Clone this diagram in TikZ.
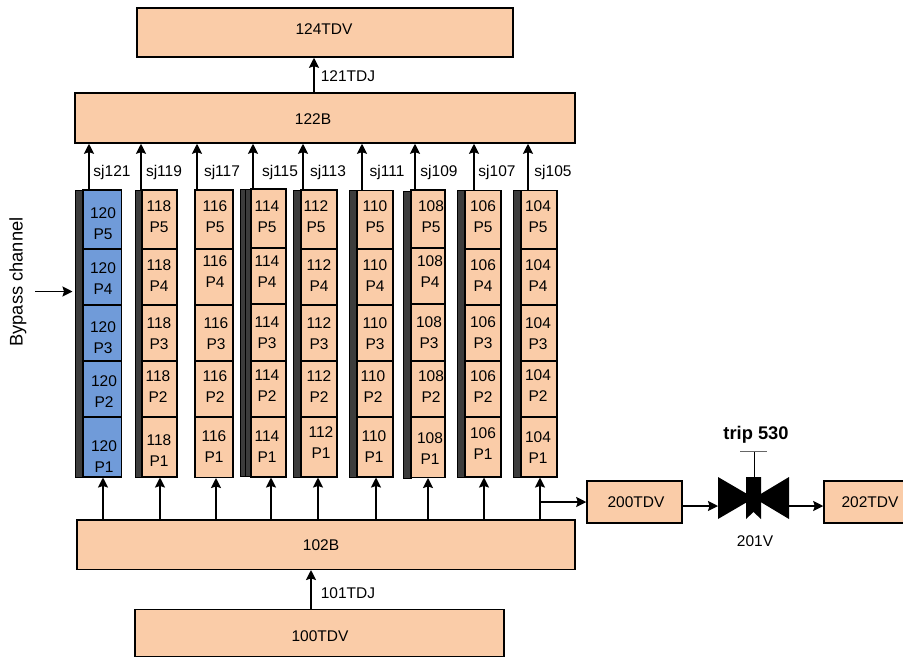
\documentclass[tikz,border=0pt]{standalone}
\usepackage{fontspec}
\setmainfont{Liberation Sans}
\usetikzlibrary{arrows.meta,calc,positioning}
\definecolor{peach}{RGB}{250,204,168}
\definecolor{pumpblue}{RGB}{112,155,217}
\definecolor{darkbar}{RGB}{60,60,60}
\tikzset{
  bigbox/.style={draw=black,line width=1.5pt,fill=peach,minimum width=#1,inner sep=0pt},
  cell/.style={draw=black,line width=1.5pt,fill=peach,minimum width=#1,minimum height=56,inner sep=0pt},
  toprow/.style={minimum height=59},
  lastrow/.style={minimum height=60},
  bluecell/.style={fill=pumpblue},
  bar/.style={draw=black,line width=1pt,fill=darkbar,minimum width=#1,minimum height=287,inner sep=0pt},
  celltext/.style={align=center,inner sep=0pt,font=\fontsize{15.5}{21}\selectfont},
  lbl/.style={inner sep=0pt,font=\fontsize{15.5}{18}\selectfont},
  biglbl/.style={inner sep=0pt,font=\fontsize{18.3}{22}\selectfont},
  flow/.style={line width=1.5pt,-{Stealth[length=10pt,width=10pt,inset=1.5pt]}}
}
\begin{document}
\begin{tikzpicture}[x=1pt,y=-1pt]
  \useasboundingbox (0,0) rectangle (903,657);
  % Main boxes
  \node[bigbox=376,minimum height=49] (b124) at (325,32.5) {};
  \node[lbl] (l124) at (324,29) {124TDV};
  \node[bigbox=500,minimum height=50] (b122) at (325,118) {};
  \node[lbl] (l122) at (313,119) {122B};
  \node[bigbox=498,minimum height=49.5] (b102) at (326,544.5) {};
  \node[lbl] (l102) at (321,545) {102B};
  \node[bigbox=369,minimum height=47] (b100) at (319.5,633) {};
  \node[lbl] (l100) at (320,636) {100TDV};
  \node[bigbox=95,minimum height=42] (b200) at (634.5,502) {};
  \node[lbl] (l200) at (636,502) {200TDV};
  \node[bigbox=84,minimum height=42] (b202) at (866,502) {};
  \node[lbl] (l202) at (870,502) {202TDV};
  % Column 120
  \node[bar=8] (d120) at (79,333.5) {};
  \node[cell=38.5,toprow,bluecell] (c120p5) at (102,219.5) {};
  \node[cell=38.5,bluecell] (c120p4) at (102,277) {};
  \node[cell=38.5,bluecell] (c120p3) at (102,333) {};
  \node[cell=38.5,bluecell] (c120p2) at (102,389) {};
  \node[cell=38.5,lastrow,bluecell] (c120p1) at (102,447) {};
  \node[celltext] (t120p5) at (103,224) {120\\P5};
  \node[celltext] (t120p4) at (103,279) {120\\P4};
  \node[celltext] (t120p3) at (103,338) {120\\P3};
  \node[celltext] (t120p2) at (104,392) {120\\P2};
  \node[celltext] (t120p1) at (104,457) {120\\P1};
  % Column 118
  \node[bar=7] (d118) at (138.5,333.5) {};
  \node[cell=35,toprow] (c118p5) at (159.5,219.5) {};
  \node[cell=35] (c118p4) at (159.5,277) {};
  \node[cell=35] (c118p3) at (159.5,333) {};
  \node[cell=35] (c118p2) at (159.5,389) {};
  \node[cell=35,lastrow] (c118p1) at (159.5,447) {};
  \node[celltext] (t118p5) at (159,217) {118\\P5};
  \node[celltext] (t118p4) at (159,276) {118\\P4};
  \node[celltext] (t118p3) at (159,334) {118\\P3};
  \node[celltext] (t118p2) at (158,387) {118\\P2};
  \node[celltext] (t118p1) at (159,451) {118\\P1};
  % Column 116
  \node[cell=38,toprow] (c116p5) at (214,219.5) {};
  \node[cell=38] (c116p4) at (214,277) {};
  \node[cell=38] (c116p3) at (214,333) {};
  \node[cell=38] (c116p2) at (214,389) {};
  \node[cell=38,lastrow] (c116p1) at (214,447.5) {};
  \node[celltext] (t116p5) at (215,217) {116\\P5};
  \node[celltext] (t116p4) at (215,272) {116\\P4};
  \node[celltext] (t116p3) at (216,334) {116\\P3};
  \node[celltext] (t116p2) at (215,387) {116\\P2};
  \node[celltext] (t116p1) at (214,447) {116\\P1};
  % Column 114
  \node[bar=6] (d114a) at (243,333) {};
  \node[bar=6] (d114b) at (248,333) {};
  \node[cell=35,toprow] (c114p5) at (268.5,218.5) {};
  \node[cell=35] (c114p4) at (268.5,276) {};
  \node[cell=35] (c114p3) at (268.5,332.5) {};
  \node[cell=35] (c114p2) at (268.5,389) {};
  \node[cell=35,lastrow] (c114p1) at (268.5,447) {};
  \node[celltext] (t114p5) at (267,217) {114\\P5};
  \node[celltext] (t114p4) at (267,272) {114\\P4};
  \node[celltext] (t114p3) at (267,333) {114\\P3};
  \node[celltext] (t114p2) at (267,386) {114\\P2};
  \node[celltext] (t114p1) at (267,447) {114\\P1};
  % Column 112
  \node[bar=8] (d112) at (297,333.5) {};
  \node[cell=36,toprow] (c112p5) at (319,219.5) {};
  \node[cell=36] (c112p4) at (319,277) {};
  \node[cell=36] (c112p3) at (319,333) {};
  \node[cell=36] (c112p2) at (319,389) {};
  \node[cell=36,lastrow] (c112p1) at (319,447) {};
  \node[celltext] (t112p5) at (316,217) {112\\P5};
  \node[celltext] (t112p4) at (319,276) {112\\P4};
  \node[celltext] (t112p3) at (319,334) {112\\P3};
  \node[celltext] (t112p2) at (319,387) {112\\P2};
  \node[celltext] (t112p1) at (321,443) {112\\P1};
  % Column 110
  \node[bar=8] (d110) at (353,334) {};
  \node[cell=36,toprow] (c110p5) at (375,220) {};
  \node[cell=36] (c110p4) at (375,277) {};
  \node[cell=36] (c110p3) at (375,333) {};
  \node[cell=36] (c110p2) at (375,389) {};
  \node[cell=36,lastrow] (c110p1) at (375,447) {};
  \node[celltext] (t110p5) at (375,217) {110\\P5};
  \node[celltext] (t110p4) at (375,276) {110\\P4};
  \node[celltext] (t110p3) at (375,334) {110\\P3};
  \node[celltext] (t110p2) at (373,387) {110\\P2};
  \node[celltext] (t110p1) at (374,447) {110\\P1};
  % Column 108
  \node[bar=8] (d108) at (407,334.5) {};
  \node[cell=34,toprow] (c108p5) at (428,219.5) {};
  \node[cell=34] (c108p4) at (428,276) {};
  \node[cell=34] (c108p3) at (428,332.5) {};
  \node[cell=34] (c108p2) at (428,389) {};
  \node[cell=34,lastrow] (c108p1) at (428,447.5) {};
  \node[celltext] (t108p5) at (431,217) {108\\P5};
  \node[celltext] (t108p4) at (430,272) {108\\P4};
  \node[celltext] (t108p3) at (429,333) {108\\P3};
  \node[celltext] (t108p2) at (431,387) {108\\P2};
  \node[celltext] (t108p1) at (430,449) {108\\P1};
  % Column 106
  \node[bar=8] (d106) at (461,334) {};
  \node[cell=36,toprow] (c106p5) at (483,220) {};
  \node[cell=36] (c106p4) at (483,277) {};
  \node[cell=36] (c106p3) at (483,333) {};
  \node[cell=36] (c106p2) at (483,389) {};
  \node[cell=36,lastrow] (c106p1) at (483,447) {};
  \node[celltext] (t106p5) at (483,217) {106\\P5};
  \node[celltext] (t106p4) at (483,276) {106\\P4};
  \node[celltext] (t106p3) at (483,333) {106\\P3};
  \node[celltext] (t106p2) at (483,387) {106\\P2};
  \node[celltext] (t106p1) at (483,444) {106\\P1};
  % Column 104
  \node[bar=8] (d104) at (517,334) {};
  \node[cell=36,toprow] (c104p5) at (539,220) {};
  \node[cell=36] (c104p4) at (539,277) {};
  \node[cell=36] (c104p3) at (539,333) {};
  \node[cell=36] (c104p2) at (539,389) {};
  \node[cell=36,lastrow] (c104p1) at (539,447) {};
  \node[celltext] (t104p5) at (538,217) {104\\P5};
  \node[celltext] (t104p4) at (538,276) {104\\P4};
  \node[celltext] (t104p3) at (538,334) {104\\P3};
  \node[celltext] (t104p2) at (538,386) {104\\P2};
  \node[celltext] (t104p1) at (538,448) {104\\P1};
  % Outlets
  \coordinate (o120) at (89,190);
  \coordinate (o118) at (141,190);
  \coordinate (o116) at (197,190);
  \coordinate (o114) at (253,190);
  \coordinate (o112) at (303,190);
  \coordinate (o110) at (362,190);
  \coordinate (o108) at (415,190);
  \coordinate (o106) at (474,190);
  \coordinate (o104) at (528,190);
  \draw[flow] (o120) -- (o120 |- b122.south);
  \draw[flow] (o118) -- (o118 |- b122.south);
  \draw[flow] (o116) -- (o116 |- b122.south);
  \draw[flow] (o114) -- (o114 |- b122.south);
  \draw[flow] (o112) -- (o112 |- b122.south);
  \draw[flow] (o110) -- (o110 |- b122.south);
  \draw[flow] (o108) -- (o108 |- b122.south);
  \draw[flow] (o106) -- (o106 |- b122.south);
  \draw[flow] (o104) -- (o104 |- b122.south);
  \node[lbl] (sj121) at (112,172) {sj121};
  \node[lbl] (sj119) at (164,172) {sj119};
  \node[lbl] (sj117) at (222,172) {sj117};
  \node[lbl] (sj115) at (280,172) {sj115};
  \node[lbl] (sj113) at (328,172) {sj113};
  \node[lbl] (sj111) at (387,172) {sj111};
  \node[lbl] (sj109) at (439,172) {sj109};
  \node[lbl] (sj107) at (497,172) {sj107};
  \node[lbl] (sj105) at (553,172) {sj105};
  % Inlets
  \coordinate (i120) at (103,477.5);
  \coordinate (i118) at (160,477.5);
  \coordinate (i116) at (216,478);
  \coordinate (i114) at (271,477.5);
  \coordinate (i112) at (318,477.5);
  \coordinate (i110) at (376,477.5);
  \coordinate (i108) at (428,478);
  \coordinate (i106) at (484,477.5);
  \coordinate (i104) at (540,477.5);
  \draw[flow] (i120 |- b102.north) -- (i120);
  \draw[flow] (i118 |- b102.north) -- (i118);
  \draw[flow] (i116 |- b102.north) -- (i116);
  \draw[flow] (i114 |- b102.north) -- (i114);
  \draw[flow] (i112 |- b102.north) -- (i112);
  \draw[flow] (i110 |- b102.north) -- (i110);
  \draw[flow] (i108 |- b102.north) -- (i108);
  \draw[flow] (i106 |- b102.north) -- (i106);
  \draw[flow] (i104 |- b102.north) -- (i104);
  % Header links
  \coordinate (j121) at (314,93);
  \draw[flow] (j121) -- (j121 |- b124.south);
  \node[lbl] (l121) at (348,76) {121TDJ};
  \coordinate (j101) at (311,609);
  \draw[flow] (j101) -- (j101 |- b102.south);
  \node[lbl] (l101) at (348,593) {101TDJ};
  % Bypass
  \coordinate (byp) at (35,291.5);
  \coordinate (bypend) at (72.5,291.5);
  \draw[flow] (byp) -- (bypend);
  \node[biglbl,rotate=90] (lbyp) at (18,282) {Bypass channel};
  % Valve
  \coordinate (tee) at (540,502);
  \coordinate (vin) at (718,506);
  \coordinate (vout) at (789,506);
  \draw[flow] (tee) -- (tee -| b200.west);
  \draw[flow] (vin -| b200.east) -- (vin);
  \draw[flow] (vout) -- (vout -| b202.west);
  \fill (718,477) -- (754,498) -- (789,477) -- (789,519) -- (754,498) -- (718,519) -- cycle;
  \fill (746,477) -- (761,477) -- (761,519) -- (753.5,512) -- (746,519) -- cycle;
  \draw[line width=1pt] (754,477) -- (754,451);
  \draw[line width=1pt,draw=black!60] (740,451) -- (767,451);
  \node[biglbl,font=\fontsize{18.3}{22}\selectfont\bfseries] (ltrip) at (756,435) {trip 530};
  \node[lbl] (l201) at (755,541) {201V};
\end{tikzpicture}
\end{document}
